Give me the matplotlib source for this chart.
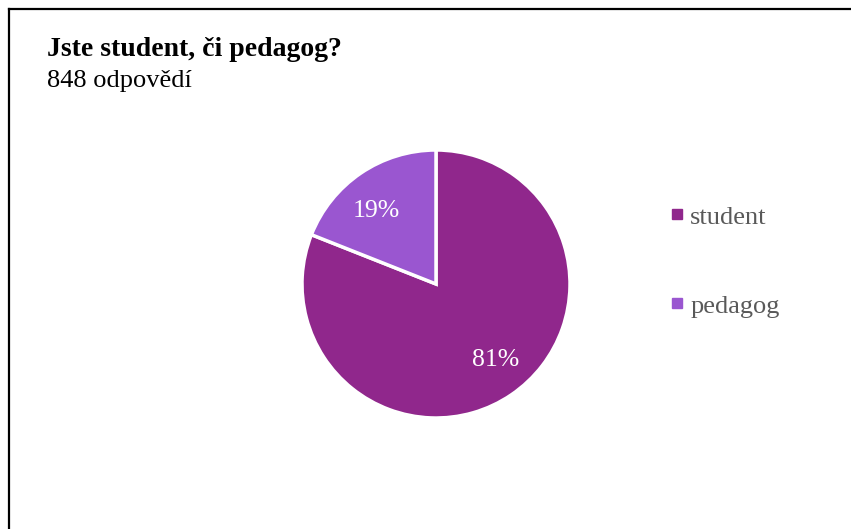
import matplotlib.pyplot as plt
from matplotlib.lines import Line2D

# survey answers (share of 848 responses)
labels = ['student', 'pedagog']
shares = [81, 19]
pct_text = ['81%', '19%']
colors = ['#90278c', '#9a56d0']

title = 'Jste student, či pedagog?'
subtitle = '848 odpovědí'

plt.rcParams['font.family'] = ['Liberation Serif', 'DejaVu Serif']

W, H = 851, 529
fig = plt.figure(figsize=(W / 100, H / 100), dpi=100)

# frame lines (left + top only, like the screenshot)
fig.add_artist(Line2D([8.5 / W, 8.5 / W], [0, 1 - 9 / H], color='black', lw=1.6,
                      transform=fig.transFigure))
fig.add_artist(Line2D([8.5 / W, 1], [1 - 9 / H, 1 - 9 / H], color='black', lw=1.6,
                      transform=fig.transFigure))

fig.text(47 / W, 1 - 56 / H, title, fontsize=20, fontweight='bold', va='baseline', ha='left')
fig.text(47 / W, 1 - 87 / H, subtitle, fontsize=19, va='baseline', ha='left')

# pie: centre (436, 284), radius 134 px
r = 134
ax = fig.add_axes([(436 - r) / W, 1 - (284 + r) / H, 2 * r / W, 2 * r / H])
wedges, _ = ax.pie(shares, colors=colors, startangle=90, counterclock=False,
                   wedgeprops=dict(edgecolor='white', linewidth=2.5))
ax.set_aspect('equal')
ax.set_xlim(-1, 1)
ax.set_ylim(-1, 1)

# percentage labels (positions in px from reference)
def fig_px(x, y):
    return ax.transAxes.inverted().transform(fig.transFigure.transform((x / W, 1 - y / H)))

ax.text(*fig_px(496, 360), pct_text[0], transform=ax.transAxes, color='white',
        fontsize=18.5, ha='center', va='center')
ax.text(*fig_px(376, 211), pct_text[1], transform=ax.transAxes, color='white',
        fontsize=18.5, ha='center', va='center')

handles = [Line2D([], [], marker='s', linestyle='', color=c, markersize=6.5) for c in colors]
leg = fig.legend(handles, labels, loc='upper left', bbox_to_anchor=(656 / W, 1 - 192 / H),
                 frameon=False, fontsize=19, handlelength=0.6, handletextpad=0.2,
                 labelspacing=2.48, borderpad=0)
for t in leg.get_texts():
    t.set_color('#595959')

fig.savefig('out.png', dpi=100, facecolor='white')
